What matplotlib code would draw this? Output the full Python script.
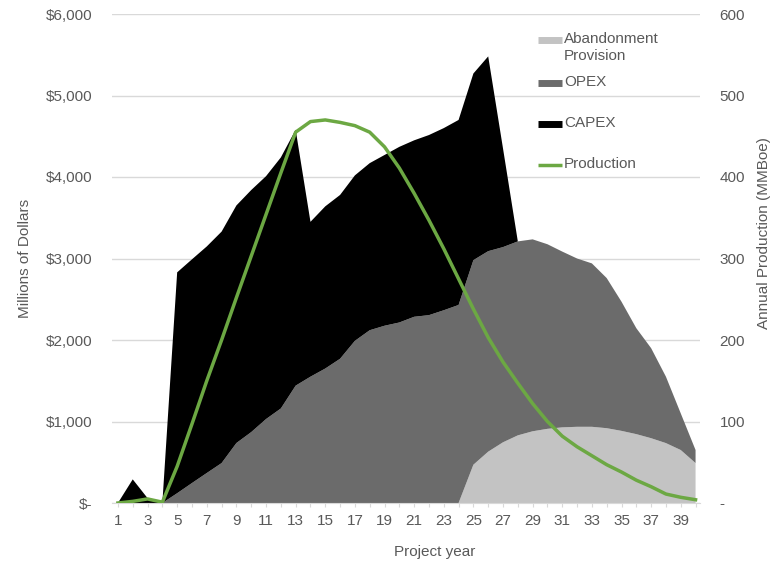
import matplotlib.pyplot as plt
import numpy as np
from matplotlib.lines import Line2D
from matplotlib.ticker import FuncFormatter

# annual cost components (millions of dollars) and production (MMBoe)
years = np.arange(1, 41)
capex = [0, 290, 60, 0, 2710, 2745, 2780, 2840, 2915, 2970,
         2980, 3080, 3140, 1900, 1990, 2010, 2030, 2050, 2095, 2155,
         2165, 2210, 2235, 2270, 2290, 2390, 1210, 0, 0, 0,
         0, 0, 0, 0, 0, 0, 0, 0, 0, 0]
opex = [0, 0, 0, 0, 120, 245, 368, 490, 736, 870,
        1030, 1160, 1440, 1550, 1650, 1770, 1990, 2120, 2175, 2215,
        2285, 2305, 2365, 2430, 2510, 2460, 2395, 2380, 2355, 2265,
        2157, 2065, 2005, 1842, 1585, 1300, 1105, 815, 450, 160]
abandonment = [0] * 24 + [470, 630, 745, 830, 880, 910, 928, 935,
                          935, 918, 885, 845, 795, 735, 650, 490]
production = [0, 2, 5, 1, 45, 97, 150, 200, 252, 303,
              354, 405, 455, 468, 470, 467, 463, 455, 437, 411,
              380, 347, 312, 275, 238, 203, 173, 147, 122, 100,
              82, 69, 58, 47, 38, 28, 20, 11, 7, 4]

series_names = ["Abandonment\nProvision", "OPEX", "CAPEX", "Production"]
c_aband = "#c3c3c3"
c_opex = "#6b6b6b"
c_capex = "#000000"
c_prod = "#6ca843"
txt = "#595959"
grid = "#d9d9d9"

plt.rcParams["font.family"] = ["Liberation Sans", "DejaVu Sans"]
plt.rcParams["font.size"] = 11

fig = plt.figure(figsize=(7.75, 5.61), dpi=100)
ax = fig.add_axes([112 / 775, 58 / 561, 588 / 775, 489 / 561])

ax.stackplot(years, abandonment, opex, capex,
             colors=[c_aband, c_opex, c_capex], linewidth=0, zorder=2)

ax.set_xlim(0.6, 40.3)
ax.set_ylim(0, 6000)
ax.set_yticks(np.arange(0, 6001, 1000))
ax.yaxis.set_major_formatter(
    FuncFormatter(lambda v, _: "$-" if v == 0 else f"${v:,.0f}"))
ax.set_xticks(years)
ax.set_xticklabels([str(y) if y % 2 == 1 else "" for y in years])
ax.yaxis.grid(True, color=grid, linewidth=1)
ax.set_axisbelow(True)
for side in ["top", "left", "right"]:
    ax.spines[side].set_visible(False)
ax.spines["bottom"].set_color(grid)
ax.tick_params(axis="y", length=0, pad=14, colors=txt)
ax.tick_params(axis="x", length=3, color=grid, pad=5, labelcolor=txt)

ax2 = ax.twinx()
ax2.plot(years, production, color=c_prod, linewidth=2.5, zorder=3)
ax2.set_ylim(0, 600)
ax2.set_yticks(np.arange(0, 601, 100))
ax2.yaxis.set_major_formatter(
    FuncFormatter(lambda v, _: "-" if v == 0 else f"{v:.0f}"))
ax2.tick_params(axis="y", length=0, pad=14, colors=txt)
for side in ["top", "left", "right", "bottom"]:
    ax2.spines[side].set_visible(False)

ax.set_xlabel("Project year", color=txt)
ax.xaxis.set_label_coords(0.549, -0.086)
ax.set_ylabel("Millions of Dollars", color=txt)
ax.yaxis.set_label_coords(-0.136, 0.5)
ax2.set_ylabel("Annual Production (MMBoe)", color=txt)
ax2.yaxis.set_label_coords(1.097, 0.552)

# legend entries drawn by hand so the swatch sits on the first text line
handles = [(c_aband, 5), (c_opex, 5), (c_capex, 5), (c_prod, 2.5)]
legend_y = [0.947, 0.859, 0.775, 0.691]
for (color, lw), name, y in zip(handles, series_names, legend_y):
    ax2.add_line(Line2D([0.7245, 0.765], [y, y], transform=ax.transAxes,
                        color=color, linewidth=lw, solid_capstyle="butt",
                        clip_on=False, zorder=5))
    ax2.text(0.769, y + 0.016, name, transform=ax.transAxes, ha="left",
             va="top", color=txt, linespacing=1.25, zorder=5)

fig.savefig("out.png", dpi=100)
